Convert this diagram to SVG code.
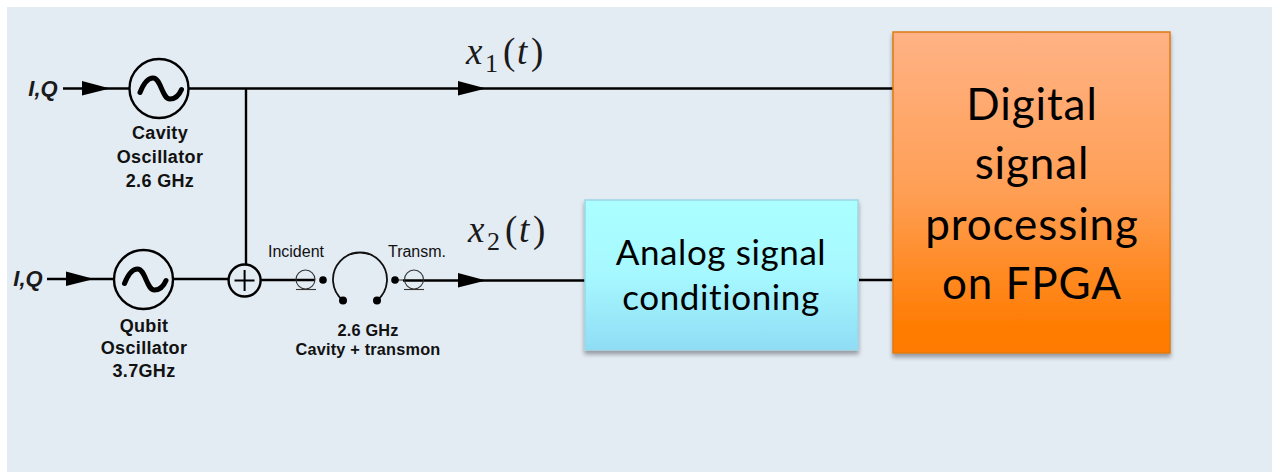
<svg xmlns="http://www.w3.org/2000/svg" width="1272" height="472" viewBox="0 0 1272 472">
<style>
.w{fill:none;stroke:#000;stroke-width:2.4}
.thin{fill:none;stroke:#333;stroke-width:1.1}
.lbl{font-family:"Liberation Sans",Arial,sans-serif;font-size:18px;font-weight:700;fill:#111;text-anchor:middle;letter-spacing:.35px}
.lbs{font-family:"Liberation Sans",Arial,sans-serif;font-size:16.3px;font-weight:700;fill:#111;text-anchor:middle;letter-spacing:.2px}
.sm{font-family:"Liberation Sans",Arial,sans-serif;font-size:16px;fill:#111;text-anchor:middle}
.iq{font-family:"Liberation Sans",Arial,sans-serif;font-size:22px;font-weight:700;font-style:italic;fill:#1a1a1a;text-anchor:middle}
.big{font-family:Lato,"Open Sans",sans-serif;fill:#000;text-anchor:middle}
.b1{font-size:35px;letter-spacing:.6px}
.b2{font-size:44px;letter-spacing:.9px}
.math{font-family:"Liberation Serif",serif;font-size:37px;fill:#1a1a1a}
.ar{fill:#000}
</style>
<defs>
<linearGradient id="gc" x1="0" y1="0" x2="0" y2="1"><stop offset="0" stop-color="#abffff"/><stop offset="0.5" stop-color="#a6f8ff"/><stop offset="1" stop-color="#8fddf5"/></linearGradient>
<linearGradient id="go" x1="0" y1="0" x2="0" y2="1"><stop offset="0" stop-color="#ffb285"/><stop offset="0.5" stop-color="#ff9f55"/><stop offset="0.92" stop-color="#ff7c02"/><stop offset="1" stop-color="#ff7a00"/></linearGradient>
<filter id="sh" x="-5%" y="-5%" width="110%" height="112%"><feDropShadow dx="0" dy="3.5" stdDeviation="2.2" flood-color="#000" flood-opacity="0.35"/></filter>
<path id="tip" d="M-13-7.500 L15 0 L-13 7 Z"/>
<path id="sine" d="M-19 4 C-15 -6 -11 -10.500 -6 -10.500 C2 -10.500 3 10.500 11 10.500 C16 10.500 20 7 22.500 1" fill="none" stroke="#000" stroke-width="5" stroke-linecap="round"/>
</defs>
<rect width="1272" height="472" fill="#fff"/>
<rect x="7" y="7" width="1265" height="465" fill="#e3ebf3"/>
<g id="connectors">
<path class="w" d="M63 88.500H129M189 88.500H893M246 88V265"/>
<path class="w" d="M47 279H113M174 279H229M261 280H315M403 280.500H585M859 280H893"/>
<path class="thin" d="M398 280H403"/>
<use href="#tip" class="ar" x="95" y="88.500"/>
<use href="#tip" class="ar" x="79" y="279"/>
<use href="#tip" class="ar" x="471" y="88.500"/>
<use href="#tip" class="ar" x="471" y="280.500"/>
</g>
<g id="iq1"><text class="iq" x="43" y="96">I,Q</text></g>
<g id="iq2"><text class="iq" x="28" y="286">I,Q</text></g>
<g id="cavity-osc">
<circle cx="159" cy="88.500" r="29.500" fill="none" stroke="#000" stroke-width="2.400"/>
<use href="#sine" x="159" y="88.500"/>
<text class="lbl" x="160" y="139">Cavity</text>
<text class="lbl" x="160" y="163">Oscillator</text>
<text class="lbl" x="160" y="187">2.6 GHz</text>
</g>
<g id="qubit-osc">
<circle cx="143.500" cy="279.500" r="29.500" fill="none" stroke="#000" stroke-width="2.400"/>
<use href="#sine" x="143.500" y="279.500"/>
<text class="lbl" x="144" y="332">Qubit</text>
<text class="lbl" x="144" y="354">Oscillator</text>
<text class="lbl" x="144" y="377">3.7GHz</text>
</g>
<g id="adder">
<circle cx="244.600" cy="280.500" r="16" fill="#e3ebf3" stroke="#000" stroke-width="2.400"/>
<path d="M234.500 280.500H254.500M244.600 270V291" fill="none" stroke="#000" stroke-width="2"/>
</g>
<g id="cavity">
<text class="sm" x="296" y="257">Incident</text>
<text class="sm" x="417" y="257">Transm.</text>
<circle class="thin" cx="305.500" cy="279.500" r="9.500"/>
<path class="thin" d="M296 289.500H316"/>
<circle cx="323" cy="280" r="3.800"/>
<path d="M343 300.500 A27 27 0 1 1 377 300.500" fill="none" stroke="#111" stroke-width="1.800"/>
<circle cx="343" cy="300.500" r="4"/>
<circle cx="377" cy="300.500" r="4"/>
<circle cx="395" cy="280" r="3.800"/>
<circle class="thin" cx="414" cy="279.500" r="9.500"/>
<path class="thin" d="M404 289.500H424"/>
<text class="lbs" x="368" y="336">2.6 GHz</text>
<text class="lbs" x="368" y="355">Cavity + transmon</text>
</g>
<g id="x1"><text class="math" y="64"><tspan x="466" font-style="italic">x</tspan><tspan x="485" y="72" font-size="26">1</tspan><tspan x="503" y="64">(</tspan><tspan x="517" font-style="italic">t</tspan><tspan x="531">)</tspan></text></g>
<g id="x2"><text class="math" y="242"><tspan x="468" font-style="italic">x</tspan><tspan x="487" y="250" font-size="26">2</tspan><tspan x="505" y="242">(</tspan><tspan x="519" font-style="italic">t</tspan><tspan x="533">)</tspan></text></g>
<g id="analog">
<rect x="585" y="200" width="273" height="150" fill="url(#gc)" stroke="#9cd6e6" stroke-width="1.500" filter="url(#sh)"/>
<text class="big b1" x="721" y="265">Analog signal</text>
<text class="big b1" x="721" y="310">conditioning</text>
</g>
<g id="dsp">
<rect x="893" y="32" width="277" height="321" fill="url(#go)" stroke="#e07a14" stroke-width="1.500" filter="url(#sh)"/>
<text class="big b2" x="1032" y="120">Digital</text>
<text class="big b2" x="1032" y="179">signal</text>
<text class="big b2" x="1032" y="240">processing</text>
<text class="big b2" x="1032" y="299">on FPGA</text>
</g>
</svg>
